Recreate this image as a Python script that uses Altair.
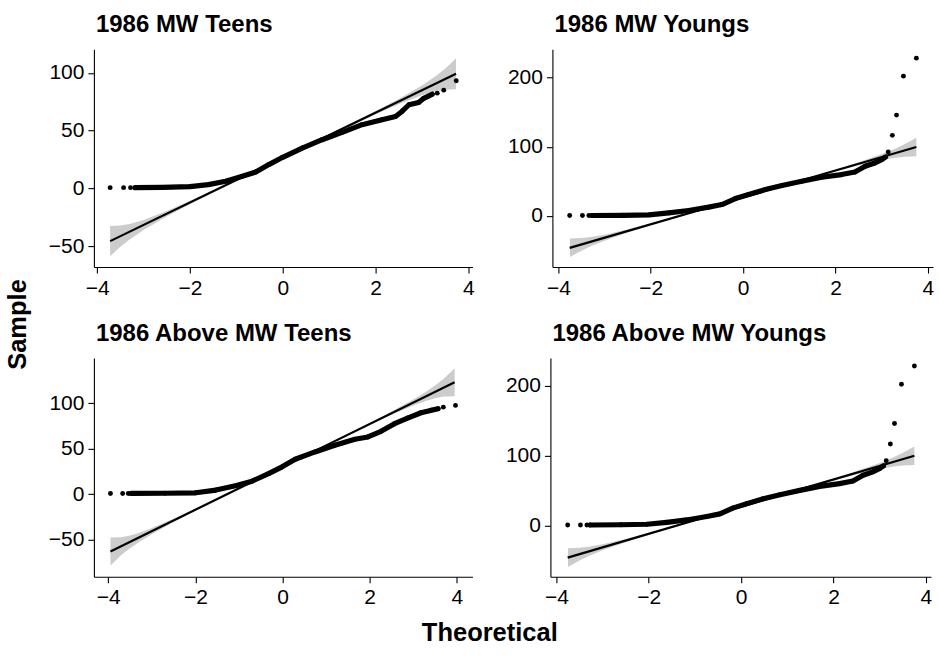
import altair as alt
import pandas as pd

FONT = "Liberation Sans"

panel_titles = ["1986 MW Teens", "1986 MW Youngs", "1986 Above MW Teens", "1986 Above MW Youngs"]
x_ticks = [-4, -2, 0, 2, 4]

# ---- 1986 MW Teens ----
t_curve_x = [-3.18, -2.6, -2.0, -1.6, -1.23, -0.87, -0.58, -0.3, 0.0, 0.42, 0.85, 1.28, 1.71, 2.14, 2.43, 2.57, 2.72, 2.93, 3.04, 3.15, 3.22]
t_curve_y = [0.8, 1.0, 1.7, 3.4, 6.3, 10.6, 14.3, 20.7, 27.0, 35.0, 42.2, 48.5, 55.2, 59.5, 62.3, 66.6, 72.4, 74.4, 78.0, 80.0, 81.5]
t_tail_x = [-3.72, -3.43, -3.28, 3.33, 3.47, 3.74]
t_tail_y = [0.8, 0.8, 0.8, 82.4, 85.0, 93.1]
t_line_x = [-3.72, 3.735]
t_line_y = [-45.4, 99.1]
t_band_x = [-3.72, -3.5, -3.3, -3.0, -2.5, -2.0, -1.0, 0.0, 1.0, 2.0, 2.5, 3.0, 3.3, 3.5, 3.735]
t_band_lo = [-58.4, -50.2, -43.9, -35.7, -24.05, -13.5, 6.5, 26.05, 45.3, 64.1, 72.85, 80.5, 84.05, 85.4, 85.7]
t_band_hi = [-32.4, -32.0, -30.7, -27.1, -19.45, -10.7, 8.1, 27.35, 46.9, 66.9, 77.45, 89.1, 97.25, 103.6, 112.5]

# ---- 1986 MW Youngs ----
y_curve_x = [-3.27, -2.6, -2.04, -1.61, -1.18, -0.745, -0.46, -0.17, 0.12, 0.48, 0.84, 1.27, 1.70, 2.13, 2.42, 2.64, 2.85, 3.0, 3.08]
y_curve_y = [0.5, 0.8, 1.5, 4.3, 7.7, 12.6, 16.4, 25.0, 30.8, 38.0, 43.8, 50.0, 55.8, 59.7, 63.5, 71.7, 76.5, 81.4, 85.0]
y_tail_x = [-3.756, -3.48, -3.34, 3.14, 3.23, 3.32, 3.47, 3.75]
y_tail_y = [0.5, 0.5, 0.5, 92.4, 116.4, 145.7, 202.0, 228.0]
y_line_x = [-3.756, 3.75]
y_line_y = [-46.2, 99.6]
y_band_x = [-3.75, -3.5, -3.3, -3.0, -2.5, -2.0, -1.0, 0.0, 1.0, 2.0, 2.5, 3.0, 3.3, 3.5, 3.75]
y_band_lo = [-59.5, -50.3, -43.9, -35.8, -24.1, -13.5, 6.5, 26.1, 45.4, 64.2, 73.0, 80.7, 84.2, 85.6, 86.2]
y_band_hi = [-32.7, -32.1, -30.7, -27.2, -19.5, -10.7, 8.1, 27.4, 47.0, 67.0, 77.6, 89.3, 97.4, 103.8, 113.0]

# ---- 1986 Above MW Teens ----
at_curve_x = [-3.47, -2.7, -1.99, -1.53, -1.08, -0.70, -0.32, -0.01, 0.29, 0.745, 1.2, 1.66, 1.96, 2.26, 2.57, 2.87, 3.18, 3.40, 3.57]
at_curve_y = [0.7, 0.9, 1.4, 4.4, 9.1, 14.2, 22.5, 29.9, 38.3, 46.3, 53.6, 60.2, 62.7, 68.9, 77.3, 83.5, 89.3, 91.9, 93.7]
at_tail_x = [-3.95, -3.67, -3.54, 3.69, 3.97]
at_tail_y = [0.7, 0.7, 0.7, 95.5, 97.4]
at_line_x = [-3.95, 3.95]
at_line_y = [-63.1, 122.9]
at_band_x = [-3.95, -3.7, -3.5, -3.3, -3.0, -2.5, -2.0, -1.0, 0.0, 1.0, 2.0, 2.5, 3.0, 3.3, 3.5, 3.7, 3.95]
at_band_lo = [-78.4, -67.0, -59.5, -52.9, -44.0, -30.8, -18.3, 5.8, 29.4, 52.8, 75.9, 87.0, 97.2, 102.5, 105.3, 107.2, 107.5]
at_band_hi = [-47.8, -47.4, -45.5, -42.7, -37.4, -27.2, -16.1, 7.0, 30.4, 54.0, 78.1, 90.6, 103.8, 112.7, 119.3, 126.8, 138.3]

# ---- 1986 Above MW Youngs ----
ay_curve_x = [-3.27, -2.6, -2.04, -1.61, -1.18, -0.745, -0.46, -0.17, 0.12, 0.48, 0.84, 1.27, 1.70, 2.13, 2.42, 2.64, 2.85, 3.0, 3.08]
ay_curve_y = [0.5, 0.8, 1.5, 4.3, 7.7, 12.6, 16.4, 25.0, 30.8, 38.0, 43.8, 50.0, 55.8, 59.7, 63.5, 71.7, 76.5, 81.4, 85.0]
ay_tail_x = [-3.756, -3.48, -3.34, 3.14, 3.23, 3.32, 3.47, 3.75]
ay_tail_y = [0.5, 0.5, 0.5, 92.4, 116.4, 145.7, 202.0, 228.0]
ay_line_x = [-3.756, 3.75]
ay_line_y = [-46.2, 99.6]
ay_band_x = [-3.75, -3.5, -3.3, -3.0, -2.5, -2.0, -1.0, 0.0, 1.0, 2.0, 2.5, 3.0, 3.3, 3.5, 3.75]
ay_band_lo = [-59.5, -50.3, -43.9, -35.8, -24.1, -13.5, 6.5, 26.1, 45.4, 64.2, 73.0, 80.7, 84.2, 85.6, 86.2]
ay_band_hi = [-32.7, -32.1, -30.7, -27.2, -19.5, -10.7, 8.1, 27.4, 47.0, 67.0, 77.6, 89.3, 97.4, 103.8, 113.0]


def panel(title, cx, cy, tx, ty, lx, ly, bx, blo, bhi, xdom, ydom, yticks, w, h):
    curve = pd.DataFrame({"x": cx, "y": cy})
    pts = pd.DataFrame({"x": cx + tx, "y": cy + ty})
    line = pd.DataFrame({"x": lx, "y": ly})
    band = pd.DataFrame({"x": bx, "lo": blo, "hi": bhi})
    xs = alt.Scale(domain=xdom, nice=False, zero=False)
    ys = alt.Scale(domain=ydom, nice=False, zero=False)
    xax = alt.Axis(title=None, values=x_ticks, format="~r")
    yax = alt.Axis(title=None, values=yticks, format="~r")
    b = alt.Chart(band).mark_area(color="#cccccc", opacity=1).encode(
        x=alt.X("x:Q", scale=xs, axis=xax),
        y=alt.Y("lo:Q", scale=ys, axis=yax),
        y2="hi:Q",
    )
    c = alt.Chart(curve).mark_line(color="black", strokeWidth=5.2, strokeCap="round", strokeJoin="round").encode(
        x=alt.X("x:Q", scale=xs), y=alt.Y("y:Q", scale=ys)
    )
    p = alt.Chart(pts).mark_circle(color="black", opacity=1, size=24).encode(
        x=alt.X("x:Q", scale=xs), y=alt.Y("y:Q", scale=ys)
    )
    l = alt.Chart(line).mark_line(color="black", strokeWidth=2.2).encode(
        x=alt.X("x:Q", scale=xs), y=alt.Y("y:Q", scale=ys)
    )
    return alt.layer(b, c, p, l).properties(
        width=w, height=h,
        title=alt.TitleParams(title, anchor="start", frame="group", font=FONT, fontSize=24,
                              fontWeight="bold", color="black", baseline="alphabetic", offset=-7, dx=2),
    )


p1 = panel(panel_titles[0], t_curve_x, t_curve_y, t_tail_x, t_tail_y, t_line_x, t_line_y,
           t_band_x, t_band_lo, t_band_hi, [-4.07, 4.09], [-67.8, 120.3], [-50, 0, 50, 100], 379, 218)
p2 = panel(panel_titles[1], y_curve_x, y_curve_y, y_tail_x, y_tail_y, y_line_x, y_line_y,
           y_band_x, y_band_lo, y_band_hi, [-4.13, 4.11], [-74, 240.8], [0, 100, 200], 381, 218)
p3 = panel(panel_titles[2], at_curve_x, at_curve_y, at_tail_x, at_tail_y, at_line_x, at_line_y,
           at_band_x, at_band_lo, at_band_hi, [-4.33, 4.36], [-90.8, 149.5], [-50, 0, 50, 100, 150], 379, 219)
p4 = panel(panel_titles[3], ay_curve_x, ay_curve_y, ay_tail_x, ay_tail_y, ay_line_x, ay_line_y,
           ay_band_x, ay_band_lo, ay_band_hi, [-4.13, 4.11], [-73.6, 239.6], [0, 100, 200], 381, 219)

row1 = alt.hconcat(p1, p2, spacing=32)
row2 = alt.hconcat(p3, p4, spacing=32)
inner = alt.vconcat(row1, row2, spacing=24).properties(
    title=alt.TitleParams("Sample", orient="left", anchor="middle", font=FONT, fontSize=25.5,
                          fontWeight="bold", color="black", offset=17, dx=-14)
)
chart = alt.vconcat(inner).properties(
    title=alt.TitleParams("Theoretical", orient="bottom", anchor="middle", font=FONT, fontSize=25.5,
                          fontWeight="bold", color="black", offset=13, dx=20),
    padding={"left": 5, "top": 13, "right": 5, "bottom": 5},
    background="white",
).configure_view(stroke=None).configure_axis(
    grid=False, domainColor="black", domainWidth=1.1, tickColor="black", tickWidth=1.1,
    tickSize=6, labelFont=FONT, labelFontSize=21, labelColor="black", labelPadding=4,
)

chart.save("out.html", embed_options={"renderer": "svg", "actions": False})
